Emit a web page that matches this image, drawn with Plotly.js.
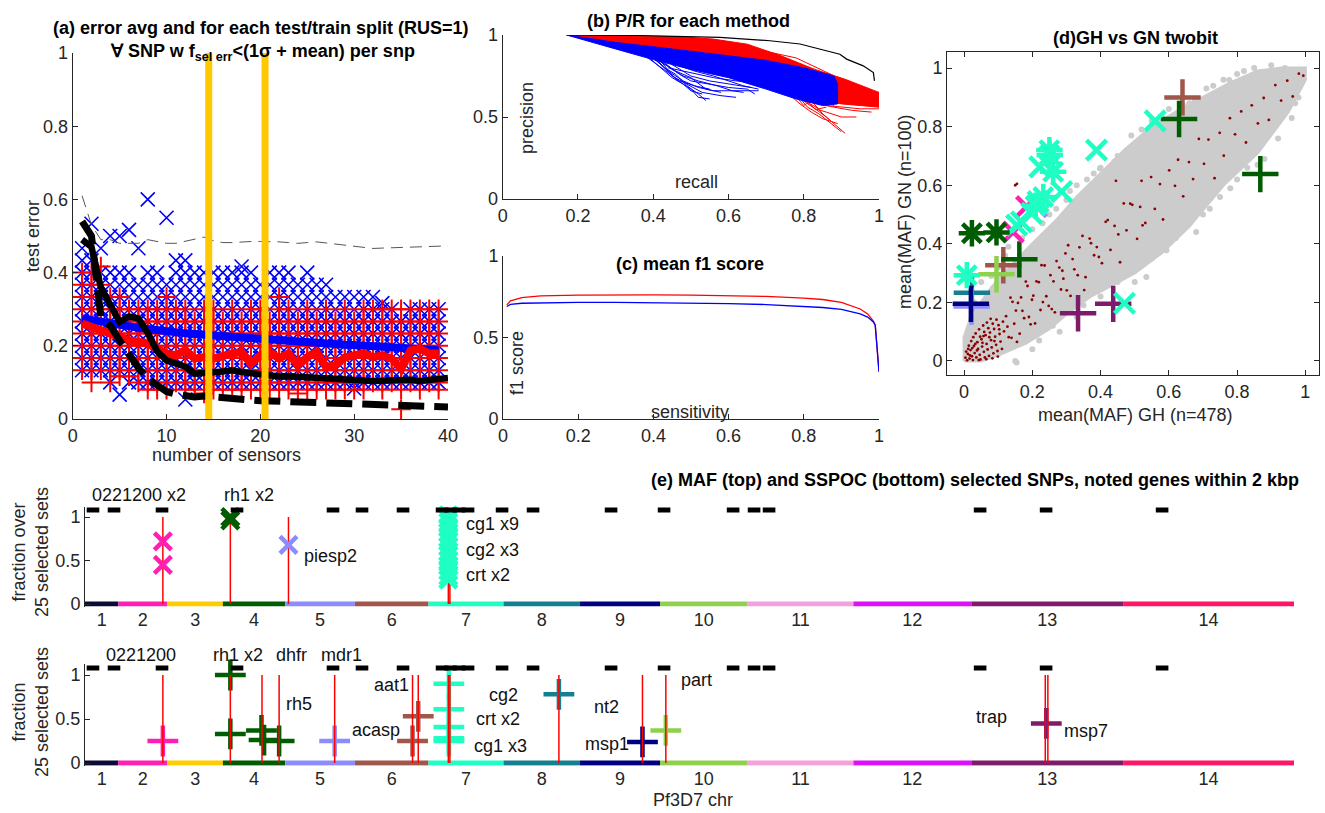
<!DOCTYPE html>
<html><head><meta charset="utf-8">
<script src="https://cdn.plot.ly/plotly-3.0.1.min.js"></script>
<style>html,body{margin:0;padding:0;background:#fff}#plot{width:1325px;height:813px}</style>
</head><body><div id="plot"></div>
<script>
// ================= DATA =================
// ---- (a) test error vs number of sensors ----
const nSensors = [1,2,3,4,5,6,7,8,9,10,11,12,13,14,15,16,17,18,19,20,21,22,23,24,25,26,27,28,29,30,31,32,33,34,35,36,37,38,39,40];
// per-split test errors, in units of 1/30 (blue x = one method, red + = other)
const blueK = [
 [4,5,6,7,8,9,10,11,12,13,14],[4,5,6,7,8,9,10,11,12,13,16],[4,5,6,7,8,9,10,11,12,14],[3,4,5,6,7,8,9,10,11,12,15],
 [2,4,5,6,7,8,9,10,11,12,15],[3,4,5,6,7,8,9,10,11,12,15.5],[3,4,5,6,7,8,9,10,11,14],[3,4,5,6,7,8,9,10,11,12,18],
 [3,4,5,6,7,8,9,10,11,12],[3,4,5,6,7,8,9,10,11,16.5],[3,4,5,6,7,8,9,10,11,12,13],[1.6,3,4,5,6,7,8,9,10,11,12,13],
 [3,4,5,6,7,8,9,10,11,12],[3,4,5,6,7,8,9,10,11,12],[3,4,5,6,7,8,9,10,11,12],[3,4,5,6,7,8,9,10,11,12],
 [3,4,5,6,7,8,9,10,11,12],[3,4,5,6,7,8,9,10,11,12,12.5],[3,4,5,6,7,8,9,10,11,12],[3,4,5,6,7,8,9,10,11],
 [3,4,5,6,7,8,9,10,11,12],[3,4,5,6,7,8,9,10,11,12],[3,4,5,6,7,8,9,10,11,12],[3,4,5,6,7,8,9,10,11],
 [3,4,5,6,7,8,9,10,11,12],[3,4,5,6,7,8,9,10,11],[3,4,5,6,7,8,9,10,11],[3,4,5,6,7,8,9,10],
 [3,4,5,6,7,8,9,10],[2.5,3,4,5,6,7,8,9,10],[3,4,5,6,7,8,9,10],[3,4,5,6,7,8,9,10],
 [3,4,5,6,7,8,9,9.5],[3,4,5,6,7,8,9],[3,4,5,6,7,8],[3,4,5,6,7,8,9],
 [3,4,5,6,7,8,9],[3,4,5,6,7,8,9],[3,4,5,6,7,8,9]
];
const redK = [
 [4,5,6,7,8,9,10,11,12],[3,4,5,6,7,8,9,10,11,12],[4,5,6,7,8,9,10,11,12.5],[3,4,5,6,7,8,9,10],
 [3.5,4,5,6,7,8,9,10],[3.5,4,5,6,7,8,9],[3,4,5,6,7,8,9],[2.4,3,4,5,6,7,8,9],
 [2.4,3,4,5,6,7,8,9],[2.4,3,4,5,6,7,8,9,10],[3,4,5,6,7,8,9],[2.4,3,4,5,6,7,8,9],
 [2.4,3,4,5,6,7,8],[2.1,3,4,5,6,7,8,9],[2.4,3,4,5,6,7,8,9],[2.4,3,4,5,6,7,8],
 [2.4,3,4,5,6,7,8,9],[2.4,3,4,5,6,7,8],[2.4,3,4,5,6,7,8,9],[2.4,3,4,5,6,7,8,9],
 [2.4,3,4,5,6,7,8],[2.4,3,4,5,6,7,8,9,10],[2.4,3,4,5,6,7,8,9],[2.1,3,4,5,6,7,8],
 [2.4,3,4,5,6,7,8,9],[2.4,3,4,5,6,7,8],[2.4,3,4,5,6,7,8,9],[2.4,3,4,5,6,7,8],
 [2.4,3,4,5,6,7,8,9],[2.4,3,4,5,6,7,8],[2.4,3,4,5,6,7,8,9],[3,4,5,6,7,8,9],
 [2.4,3,4,5,6,7,8,9],[3,4,5,6,7,8,9],[0.8,2.4,3,4,5,6,7,8,9],[3,4,5,6,7,8,9],
 [2.4,3,4,5,6,7,8,9],[3,4,5,6,7,8,9],[2.4,3,4,5,6,7,8,9]
];
const blueMean = [0.275,0.27,0.265,0.26,0.256,0.252,0.249,0.246,0.242,0.238,0.236,0.234,0.232,0.23,0.228,0.226,0.224,0.222,0.219,0.216,0.215,0.213,0.212,0.21,0.209,0.208,0.206,0.205,0.203,0.202,0.2,0.199,0.198,0.196,0.194,0.192,0.191,0.19,0.188];
const redMean = [0.261,0.252,0.243,0.229,0.22,0.215,0.211,0.206,0.192,0.179,0.174,0.188,0.165,0.169,0.165,0.174,0.179,0.183,0.151,0.174,0.183,0.165,0.179,0.147,0.169,0.183,0.142,0.147,0.168,0.174,0.179,0.169,0.174,0.165,0.137,0.187,0.192,0.179,0.179];
const blackSolid = [0.49,0.47,0.36,0.31,0.265,0.28,0.275,0.235,0.185,0.16,0.152,0.143,0.124,0.124,0.128,0.13,0.133,0.128,0.124,0.121,0.12,0.116,0.117,0.115,0.115,0.113,0.11,0.108,0.105,0.105,0.105,0.104,0.105,0.107,0.11,0.107,0.104,0.108,0.11,0.112];
const blackDashed = [0.54,0.5,0.28,0.255,0.215,0.175,0.14,0.11,0.09,0.075,0.068,0.062,0.06,0.063,0.06,0.058,0.056,0.054,0.052,0.05,0.049,0.048,0.048,0.047,0.047,0.046,0.045,0.043,0.043,0.042,0.042,0.041,0.041,0.04,0.039,0.038,0.037,0.036,0.035,0.033];
const grayDashed = [0.61,0.53,0.49,0.49,0.48,0.48,0.48,0.49,0.485,0.48,0.48,0.485,0.49,0.497,0.487,0.482,0.482,0.484,0.485,0.485,0.485,0.484,0.482,0.48,0.482,0.484,0.481,0.478,0.475,0.472,0.468,0.466,0.467,0.468,0.469,0.47,0.47,0.471,0.472,0.473];
const yellowX = [14.5, 20.5];

// ---- (b) precision / recall ----
const redBandX = [0.17,0.3,0.47,0.56,0.65,0.74,0.83,0.91,1.0,1.0,0.9,0.8,0.7,0.6,0.45,0.3,0.17];
const redBandY = [1.0,0.995,0.99,0.975,0.944,0.873,0.79,0.73,0.65,0.56,0.58,0.62,0.68,0.76,0.86,0.94,1.0];
const redCurves = [
 [[0.75,0.79,0.82,0.85,0.89],[0.66,0.58,0.53,0.49,0.46]],
 [[0.76,0.8,0.83,0.86,0.91],[0.66,0.6,0.55,0.5,0.40]],
 [[0.78,0.81,0.84,0.88,0.9],[0.64,0.56,0.52,0.45,0.41]],
 [[0.8,0.84,0.88,0.93,0.98],[0.63,0.58,0.56,0.54,0.53]],
 [[0.72,0.76,0.8,0.86,0.95,1.0],[0.7,0.65,0.6,0.57,0.55,0.55]],
 [[0.77,0.8,0.82,0.85,0.87],[0.65,0.57,0.6,0.52,0.48]],
 [[0.79,0.83,0.86,0.9,0.94],[0.63,0.55,0.53,0.5,0.5]],
 [[0.74,0.78,0.81,0.84,0.86],[0.67,0.62,0.59,0.55,0.56]],
 [[0.17,0.4,0.6,0.75,0.85,0.95,1.0],[1.0,0.97,0.92,0.84,0.75,0.66,0.62]],
 [[0.17,0.4,0.6,0.78,0.9,1.0],[1.0,0.98,0.95,0.86,0.73,0.64]]
];
const blueBandX = [0.17,0.3,0.45,0.6,0.7,0.8,0.88,0.89,0.89,0.85,0.78,0.7,0.6,0.5,0.4,0.3,0.17];
const blueBandY = [1.0,0.955,0.915,0.875,0.845,0.8,0.75,0.7,0.58,0.57,0.61,0.67,0.74,0.79,0.85,0.915,1.0];
const blueCurves = [
 [[0.40,0.44,0.48,0.52,0.56,0.62,0.68],[0.86,0.78,0.72,0.68,0.66,0.66,0.66]],
 [[0.41,0.45,0.49,0.53,0.58,0.62],[0.85,0.75,0.7,0.65,0.63,0.62]],
 [[0.42,0.46,0.5,0.52,0.55],[0.84,0.73,0.67,0.62,0.61]],
 [[0.43,0.47,0.5,0.55,0.6,0.65,0.67],[0.83,0.76,0.72,0.7,0.68,0.67,0.64]],
 [[0.45,0.5,0.55,0.6,0.66],[0.82,0.75,0.72,0.7,0.68]],
 [[0.39,0.42,0.45,0.48,0.5,0.53],[0.86,0.8,0.74,0.7,0.66,0.64]],
 [[0.44,0.5,0.56,0.62,0.67],[0.8,0.77,0.74,0.72,0.71]],
 [[0.38,0.41,0.44,0.47,0.51,0.55],[0.87,0.82,0.77,0.72,0.69,0.67]],
 [[0.4,0.43,0.46,0.49,0.52,0.54],[0.86,0.8,0.76,0.69,0.64,0.6]],
 [[0.42,0.45,0.48,0.52,0.57,0.61,0.64],[0.84,0.79,0.75,0.72,0.69,0.66,0.65]],
 [[0.41,0.46,0.5,0.54,0.58],[0.85,0.78,0.74,0.67,0.65]],
 [[0.46,0.51,0.56,0.6,0.64,0.68],[0.82,0.78,0.75,0.72,0.69,0.67]],
 [[0.6,0.7,0.8,0.86,0.88],[0.78,0.72,0.66,0.6,0.57]]
];
const blackPRx = [0.174,0.35,0.577,0.71,0.79,0.86,0.896,0.914,0.958,0.985,0.988];
const blackPRy = [1.0,0.997,0.986,0.965,0.945,0.904,0.883,0.853,0.812,0.771,0.72];

// ---- (c) mean f1 score ----
const sensitivity = [0.01,0.02,0.05,0.1,0.2,0.3,0.4,0.5,0.6,0.7,0.8,0.85,0.9,0.95,0.97,0.985,0.99,1.0];
const f1Red  = [0.70,0.725,0.745,0.755,0.76,0.762,0.762,0.76,0.757,0.752,0.742,0.733,0.715,0.675,0.645,0.6,0.575,0.29];
const f1Blue = [0.69,0.703,0.71,0.713,0.715,0.715,0.714,0.712,0.708,0.702,0.692,0.684,0.672,0.645,0.625,0.595,0.575,0.29];

// ---- (d) GH vs GN ----
const cloudX = [0,0,0.02,0.08,0.15,0.2,0.27,0.33,0.4,0.47,0.55,0.62,0.7,0.78,0.86,0.93,1.0,1.0,0.95,0.86,0.76,0.66,0.58,0.5,0.42,0.37,0.3,0.25,0.18,0.1,0.05,0];
const cloudY = [0,0.08,0.15,0.25,0.34,0.4,0.48,0.56,0.64,0.72,0.8,0.85,0.9,0.95,0.99,1.0,1.0,0.96,0.85,0.71,0.6,0.46,0.37,0.3,0.25,0.22,0.16,0.11,0.06,0.02,0.0,0];
const grayPtX = [0.05,0.1,0.12,0.17,0.2,0.23,0.3,0.33,0.36,0.4,0.42,0.45,0.49,0.5,0.52,0.55,0.6,0.64,0.68,0.71,0.76,0.8,0.85,0.9,0.13,0.27,0.38,0.398,0.422,0.495,
 0.15,0.2,0.28,0.33,0.35,0.4,0.45,0.5,0.534,0.55,0.593,0.62,0.68,0.72,0.75,0.8,0.83,0.88,0.92,0.96,0.98,0.408,0.35,0.154,0.777,0.856,0.676,0.641,
 0.03,0.08,0.25,0.31,0.44,0.58,0.66,0.73,0.82,0.94,0.22,0.26,0.47,0.57,0.63,0.7,0.78,0.86,0.9,0.97];
const grayPtY = [0.27,0.32,0.36,0.42,0.45,0.47,0.55,0.6,0.62,0.66,0.63,0.7,0.77,0.74,0.79,0.82,0.86,0.87,0.89,0.93,0.96,0.98,1.0,1.01,0.39,0.52,0.64,0.657,0.629,0.64,
 0.0,0.04,0.1,0.15,0.19,0.22,0.27,0.27,0.287,0.35,0.378,0.42,0.44,0.52,0.56,0.62,0.66,0.69,0.76,0.83,0.9,0.39,0.367,-0.005,0.959,0.982,0.891,0.874,
 0.2,0.29,0.5,0.58,0.68,0.83,0.88,0.94,0.99,1.0,0.07,0.12,0.3,0.4,0.45,0.5,0.59,0.67,0.79,0.88];
const darkRedX = [0.004,0.009,0.011,0.016,0.019,0.023,0.026,0.029,0.031,0.036,0.039,0.041,0.046,0.048,0.051,0.053,0.058,0.061,0.063,0.066,0.069,0.073,0.076,0.079,0.081,0.086,0.088,0.091,0.094,0.098,
 0.101,0.104,0.107,0.111,0.114,0.117,0.006,0.014,0.021,0.027,0.034,0.044,0.056,0.067,0.078,0.012,0.033,0.047,0.059,0.071,0.084,0.095,0.017,0.038,0.054,0.074,0.089,0.103,0.043,0.065,
 0.083,0.099,0.024,0.057,
 0.123,0.131,0.142,0.147,0.158,0.163,0.171,0.186,0.19,0.203,0.208,0.219,0.231,0.236,0.248,0.262,0.266,0.279,0.291,0.297,0.312,0.318,0.333,0.347,0.352,0.368,0.381,0.389,0.404,0.415,
 0.429,0.441,0.457,0.468,0.476,0.493,0.507,0.516,0.531,0.548,0.559,0.574,0.583,0.601,0.618,0.627,0.642,0.659,0.671,0.688,0.703,0.716,0.734,0.749,0.761,0.779,0.794,0.812,0.826,0.843,
 0.861,0.878,0.893,0.912,0.929,0.947,0.963,0.981,0.994,
 0.127,0.136,0.139,0.152,0.155,0.167,0.176,0.181,0.195,0.199,0.212,0.224,0.227,0.241,0.253,0.257,0.271,0.284,0.288,0.301,0.305,0.323,0.338,0.356,0.372,0.395,0.421,0.452,0.487,0.523,
 0.15,0.155,0.445,0.52];
const darkRedY = [0.011,0.002,0.024,0.008,0.037,0.016,0.003,0.051,0.027,0.012,0.064,0.041,0.021,0.005,0.074,0.049,0.031,0.012,0.088,0.058,0.039,0.017,0.097,0.071,0.046,0.026,0.109,0.083,0.055,0.034,
 0.122,0.092,0.066,0.041,0.134,0.101,0.032,0.052,0.068,0.081,0.094,0.108,0.121,0.131,0.144,0.041,0.058,0.083,0.099,0.112,0.127,0.141,0.019,0.036,0.062,0.081,0.068,0.108,0.003,0.006,
 0.009,0.015,0.044,0.085,
 0.153,0.081,0.202,0.127,0.198,0.093,0.171,0.256,0.15,0.223,0.128,0.269,0.201,0.326,0.188,0.272,0.166,0.319,0.281,0.367,0.222,0.348,0.293,0.427,0.242,0.418,0.361,0.389,0.334,0.475,
 0.379,0.461,0.337,0.538,0.446,0.533,0.417,0.526,0.471,0.628,0.519,0.604,0.483,0.651,0.598,0.687,0.562,0.679,0.621,0.758,0.673,0.756,0.624,0.779,0.701,0.829,0.774,0.852,0.746,0.873,
 0.811,0.898,0.823,0.942,0.889,0.957,0.903,0.981,0.974,
 0.117,0.216,0.079,0.172,0.065,0.217,0.146,0.271,0.125,0.209,0.272,0.174,0.327,0.221,0.293,0.177,0.341,0.244,0.308,0.241,0.395,0.313,0.388,0.286,0.402,0.355,0.481,0.432,0.537,0.463,
 0.6,0.605,0.615,0.615];
// highlighted SNPs (chromosome index 1..14 gives the colour)
const dPlusX = [0.023,0.022,0.02,0.115,0.095,0.162,0.64,0.63,0.868,0.334,0.437];
const dPlusY = [0.233,0.186,0.195,0.327,0.296,0.347,0.90,0.826,0.638,0.163,0.195];
const dPlusChr = [8,5,9,6,10,4,6,4,4,13,13];
const dXX = [0.144,0.183,0.212,0.154,0.168,0.198,0.217,0.222,0.286,0.388,0.56,0.47];
const dXY = [0.44,0.527,0.527,0.464,0.475,0.504,0.544,0.663,0.578,0.72,0.82,0.197];
const dXChr = [2,2,5,7,7,7,7,7,7,7,7,7];
const dAstX = [0.008,0.023,0.095,0.21,0.232,0.25,0.251,0.261];
const dAstY = [0.293,0.436,0.439,0.53,0.56,0.72,0.703,0.646];
const dAstChr = [7,4,4,7,7,7,7,7];

// ---- (e) genome positions (Mb, cumulative) ----
const chrNames = ['1','2','3','4','5','6','7','8','9','10','11','12','13','14'];
const chrLenMb = [0.641,0.947,1.068,1.200,1.344,1.418,1.445,1.473,1.542,1.688,2.038,2.271,2.925,3.292];
const chrColors = ['#0b0b36','#ff1fb2','#ffcc00','#005c00','#8c8cff','#a0564b','#1fffc4','#14808f','#000080','#8fd14f','#f3a0dc','#dc10fa','#7e1c6c','#ff1664'];
const genePos = [0.154,0.559,1.484,2.929,4.778,5.337,6.127,6.879,7.04,7.206,7.38,8.035,8.632,10.135,11.156,12.486,12.89,13.179,17.245,18.516,20.751];
const topRedLines = [1.50,2.80,3.92,7.00,7.03];
const topSnpPos  = [1.50,1.50,2.80,2.80,3.92,7.0,7.0,7.0,7.0,7.0,7.0,7.0,7.0,7.0,7.0,7.0,7.0,7.0,7.0,7.0];
const topSnpFrac = [0.72,0.45,1.0,0.96,0.68,1.02,0.98,0.94,0.88,0.82,0.76,0.72,0.66,0.6,0.56,0.5,0.44,0.38,0.32,0.28];
const topSnpChr  = [2,2,4,4,5,7,7,7,7,7,7,7,7,7,7,7,7,7,7,7];
const botRedLines = [1.50,2.80,3.41,3.74,4.81,6.31,6.42,7.00,7.03,9.13,10.74,11.19,18.50,18.55];
const botSnpPos  = [1.50,2.80,2.80,3.40,3.45,3.74,4.81,6.31,6.42,7.01,7.01,7.01,7.01,7.01,9.13,10.74,11.19,18.52];
const botSnpFrac = [0.25,1.0,0.33,0.37,0.26,0.25,0.25,0.25,0.53,0.9,0.61,0.41,0.28,0.25,0.78,0.24,0.37,0.45];
const botSnpChr  = [2,4,4,4,4,4,5,6,6,7,7,7,7,7,8,9,10,13];
const topLabels = [['0221200 x2',1.04,1.25,'center'],['rh1 x2',3.16,1.25,'center'],['piesp2',4.73,0.55,'center'],['cg1 x9',7.31,0.92,'left'],['cg2 x3',7.31,0.62,'left'],['crt x2',7.31,0.33,'left']];
const botLabels = [['0221200',1.08,1.23,'center'],['rh1 x2',2.95,1.23,'center'],['dhfr',3.98,1.23,'center'],['mdr1',4.95,1.23,'center'],['rh5',4.12,0.67,'center'],
 ['acasp',5.60,0.375,'center'],['aat1',5.90,0.89,'center'],['cg2',8.07,0.77,'center'],['crt x2',7.95,0.5,'center'],['cg1 x3',8.01,0.19,'center'],
 ['nt2',10.05,0.64,'center'],['msp1',10.05,0.22,'center'],['part',11.79,0.94,'center'],['trap',17.46,0.52,'center'],['msp7',19.29,0.36,'center']];

// ================= DRAWING =================
const W=1325,H=813;
const fx=p=>p/W, fy=p=>1-p/H;
const FONT='"Liberation Sans", Arial, Helvetica, sans-serif';
const AXC='#262626';
function ax(o){return Object.assign({showline:true,linecolor:AXC,linewidth:1,ticks:'inside',ticklen:5,tickwidth:1,tickcolor:AXC,
  tickfont:{family:FONT,size:18,color:AXC},showgrid:false,zeroline:false,automargin:false,fixedrange:true},o);}
const T=[];
function add(o){o.hoverinfo='skip';T.push(o);}

// (a)
{
 let bx=[],by=[],rx=[],ry=[];
 blueK.forEach((c,i)=>c.forEach(k=>{bx.push(nSensors[i]);by.push(k/30);}));
 redK.forEach((c,i)=>c.forEach(k=>{rx.push(nSensors[i]);ry.push(k/30);}));
 add({type:'scatter',mode:'markers',x:bx,y:by,xaxis:'x',yaxis:'y',marker:{symbol:'x-thin-open',size:14,color:'#0000ff',line:{color:'#0000ff',width:1.6}}});
 add({type:'scatter',mode:'markers',x:rx,y:ry,xaxis:'x',yaxis:'y',marker:{symbol:'cross-thin-open',size:14,color:'#ff0000',line:{color:'#ff0000',width:2}}});
 const n39=nSensors.slice(0,39);
 add({type:'scatter',mode:'lines',x:n39,y:blueMean,xaxis:'x',yaxis:'y',line:{color:'#0000ff',width:8}});
 add({type:'scatter',mode:'lines',x:n39,y:redMean,xaxis:'x',yaxis:'y',line:{color:'#ff0000',width:8}});
 add({type:'scatter',mode:'lines',x:nSensors,y:blackSolid,xaxis:'x',yaxis:'y',line:{color:'#000',width:6.5}});
 add({type:'scatter',mode:'lines',x:nSensors,y:blackDashed,xaxis:'x',yaxis:'y',line:{color:'#000',width:7,dash:'26px,10px'}});
 add({type:'scatter',mode:'lines',x:nSensors,y:grayDashed,xaxis:'x',yaxis:'y',line:{color:'#555',width:1,dash:'12px,7px'}});
 let yx=[],yy=[];yellowX.forEach(v=>{yx.push(v,v,null);yy.push(0,1,null);});
 add({type:'scatter',mode:'lines',x:yx,y:yy,xaxis:'x',yaxis:'y',line:{color:'#ffc800',width:7}});
}
// (b)
add({type:'scatter',mode:'lines',x:redBandX,y:redBandY,fill:'toself',fillcolor:'#ff0000',xaxis:'x2',yaxis:'y2',line:{color:'#ff0000',width:1}});
redCurves.forEach(c=>add({type:'scatter',mode:'lines',x:c[0],y:c[1],xaxis:'x2',yaxis:'y2',line:{color:'#ff0000',width:1}}));
add({type:'scatter',mode:'lines',x:blueBandX,y:blueBandY,fill:'toself',fillcolor:'#0000ff',xaxis:'x2',yaxis:'y2',line:{color:'#0000ff',width:1}});
blueCurves.forEach(c=>add({type:'scatter',mode:'lines',x:c[0],y:c[1],xaxis:'x2',yaxis:'y2',line:{color:'#0000ff',width:1}}));
add({type:'scatter',mode:'lines',x:blackPRx,y:blackPRy,xaxis:'x2',yaxis:'y2',line:{color:'#000',width:1.2}});
// (c)
add({type:'scatter',mode:'lines',x:sensitivity,y:f1Red,xaxis:'x3',yaxis:'y3',line:{color:'#ff0000',width:1.3}});
add({type:'scatter',mode:'lines',x:sensitivity,y:f1Blue,xaxis:'x3',yaxis:'y3',line:{color:'#0000ff',width:1.3}});
// (d)
add({type:'scatter',mode:'lines',x:cloudX,y:cloudY,fill:'toself',fillcolor:'#cccccc',xaxis:'x4',yaxis:'y4',line:{color:'#cccccc',width:3}});
add({type:'scatter',mode:'markers',x:grayPtX,y:grayPtY,xaxis:'x4',yaxis:'y4',marker:{size:6,color:'#cccccc'}});
add({type:'scatter',mode:'markers',x:darkRedX,y:darkRedY,xaxis:'x4',yaxis:'y4',marker:{size:2.8,color:'#8b0000'}});
const cc=a=>a.map(i=>chrColors[i-1]);
add({type:'scatter',mode:'markers',x:dPlusX,y:dPlusY,xaxis:'x4',yaxis:'y4',marker:{symbol:'cross-thin-open',size:26,color:cc(dPlusChr),line:{color:cc(dPlusChr),width:4.5}}});
add({type:'scatter',mode:'markers',x:dXX,y:dXY,xaxis:'x4',yaxis:'y4',marker:{symbol:'x-thin-open',size:20,color:cc(dXChr),line:{color:cc(dXChr),width:4.5}}});
add({type:'scatter',mode:'markers',x:dAstX,y:dAstY,xaxis:'x4',yaxis:'y4',marker:{symbol:'asterisk-open',size:22,color:cc(dAstChr),line:{color:cc(dAstChr),width:4.5}}});
// (e)
const chrStart=[];{let s=0;chrLenMb.forEach(l=>{chrStart.push(s);s+=l;});}
const chrMid=chrStart.map((s,i)=>s+chrLenMb[i]/2);
const genomeEnd=chrStart[13]+chrLenMb[13];
function redLines(pos,xa,ya){let x=[],y=[];pos.forEach(p=>{x.push(p,p,null);y.push(0,1,null);});
  add({type:'scatter',mode:'lines',x:x,y:y,xaxis:xa,yaxis:ya,line:{color:'#ff0000',width:1.5}});}
function bars(xa,ya){chrLenMb.forEach((l,i)=>add({type:'scatter',mode:'lines',x:[chrStart[i],chrStart[i]+l],y:[0,0],xaxis:xa,yaxis:ya,line:{color:chrColors[i],width:5}}));}
function dashes(xa,ya){add({type:'scatter',mode:'markers',x:genePos,y:genePos.map(()=>1.08),xaxis:xa,yaxis:ya,marker:{symbol:'line-ew-open',size:9,color:'#000',line:{color:'#000',width:5}}});}
bars('x5','y5');
redLines(topRedLines,'x5','y5');
add({type:'scatter',mode:'markers',x:topSnpPos,y:topSnpFrac,xaxis:'x5',yaxis:'y5',cliponaxis:false,marker:{symbol:'x-thin-open',size:17,color:cc(topSnpChr),line:{color:cc(topSnpChr),width:4.5}}});
dashes('x5','y5');
bars('x6','y6');
add({type:'scatter',mode:'markers',x:botSnpPos,y:botSnpFrac,xaxis:'x6',yaxis:'y6',cliponaxis:false,marker:{symbol:'cross-thin-open',size:22,color:cc(botSnpChr),line:{color:cc(botSnpChr),width:4.5}}});
redLines(botRedLines,'x6','y6');
dashes('x6','y6');

// ----- layout -----
const topY0=604,topS=87,botY0=763,botS=88;
const eYr=[-0.03,1.12];
const ann=[];
function txt(t,xp,yp,o){ann.push(Object.assign({text:t,x:fx(xp),y:fy(yp),xref:'paper',yref:'paper',showarrow:false,xanchor:'center',yanchor:'middle',
  font:{family:FONT,size:18,color:AXC}},o||{}));}
const bold={font:{family:FONT,size:18,color:'#000',weight:'bold'}};
txt('<b>(a) error avg and for each test/train split (RUS=1)</b>',261,28,bold);
txt('<b>∀ SNP w f<sub>sel err</sub><(1σ + mean) per snp</b>',262,52,bold);
txt('<b>(b) P/R for each method</b>',688,21,bold);
txt('<b>(c) mean f1 score</b>',690,264,bold);
txt('<b>(d)GH vs GN twobit</b>',1135,38,bold);
txt('<b>(e) MAF (top) and SSPOC (bottom) selected SNPs, noted genes within 2 kbp</b>',975,480,bold);
txt('test error',33,236,{textangle:-90});
txt('number of sensors',226,455);
txt('precision',527,118,{textangle:-90});
txt('recall',697,182);
txt('f1 score',517,363,{textangle:-90});
txt('sensitivity',690,412);
txt('mean(MAF) GN (n=100)',905,212,{textangle:-90});
txt('mean(MAF) GH (n=478)',1135,415);
txt('fraction over<br>25 selected sets',30,552,{textangle:-90});
txt('fraction<br>25 selected sets',30,712,{textangle:-90});
txt('Pf3D7 chr',693,800);
topLabels.forEach(l=>ann.push({text:l[0],x:l[1],xref:'x5',y:fy(topY0-l[2]*topS),yref:'paper',showarrow:false,xanchor:l[3],yanchor:'middle',font:{family:FONT,size:18,color:'#111'}}));
botLabels.forEach(l=>ann.push({text:l[0],x:l[1],xref:'x6',y:fy(botY0-l[2]*botS),yref:'paper',showarrow:false,xanchor:l[3],yanchor:'middle',font:{family:FONT,size:18,color:'#111'}}));

const tk01=[0,0.2,0.4,0.6,0.8,1];
const layout={
 width:W,height:H,margin:{l:0,r:0,t:0,b:0},paper_bgcolor:'#fff',plot_bgcolor:'rgba(0,0,0,0)',showlegend:false,
 font:{family:FONT,size:18,color:AXC},
 xaxis:ax({domain:[fx(72.7),fx(448)],range:[0,40],tickvals:[0,10,20,30,40],anchor:'y'}),
 yaxis:ax({domain:[fy(419),fy(53)],range:[0,1],tickvals:tk01,anchor:'x'}),
 xaxis2:ax({domain:[fx(502.7),fx(879)],range:[0,1],tickvals:tk01,anchor:'y2'}),
 yaxis2:ax({domain:[fy(199),fy(35)],range:[0,1],tickvals:[0,0.5,1],anchor:'x2'}),
 xaxis3:ax({domain:[fx(503),fx(879)],range:[0,1],tickvals:tk01,anchor:'y3'}),
 yaxis3:ax({domain:[fy(419),fy(256)],range:[0,1],tickvals:[0,0.5,1],anchor:'x3'}),
 xaxis4:ax({domain:[fx(947),fx(1319)],range:[-0.05,1.04],tickvals:tk01,anchor:'y4',mirror:'ticks'}),
 yaxis4:ax({domain:[fy(375),fy(52)],range:[-0.048,1.055],tickvals:tk01,anchor:'x4',mirror:'ticks'}),
 xaxis5:ax({domain:[fx(85),fx(1294)],range:[0,genomeEnd],tickvals:chrMid,ticktext:chrNames,ticks:'',showline:false,anchor:'y5'}),
 yaxis5:ax({domain:[fy(topY0-eYr[0]*topS),fy(topY0-eYr[1]*topS)],range:eYr,tickvals:[0,0.5,1],anchor:'x5'}),
 xaxis6:ax({domain:[fx(85),fx(1294)],range:[0,genomeEnd],tickvals:chrMid,ticktext:chrNames,ticks:'',showline:false,anchor:'y6'}),
 yaxis6:ax({domain:[fy(botY0-eYr[0]*botS),fy(botY0-eYr[1]*botS)],range:eYr,tickvals:[0,0.5,1],anchor:'x6'}),
 annotations:ann
};
Plotly.newPlot('plot',T,layout,{staticPlot:true,displayModeBar:false});
</script></body></html>
